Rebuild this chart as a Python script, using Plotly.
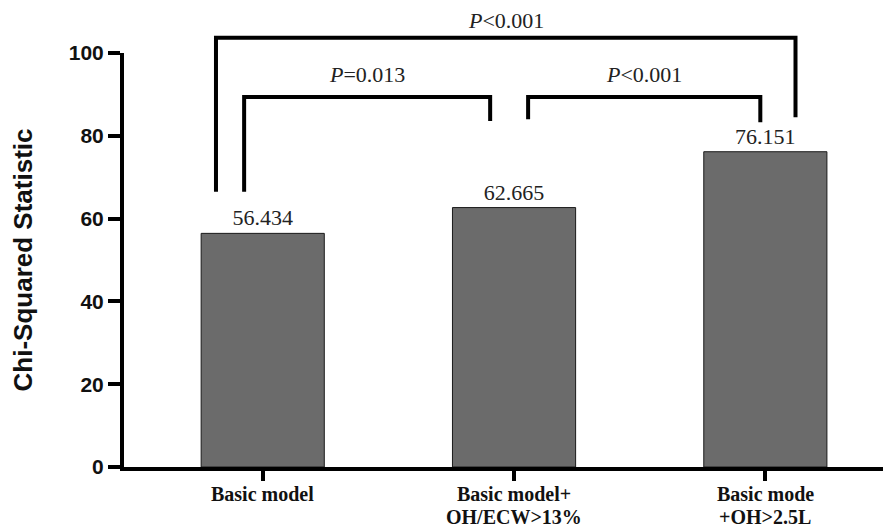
import plotly.graph_objects as go

categories = ["Basic model", "Basic model+<br>OH/ECW>13%", "Basic mode<br>+OH>2.5L"]
values = [56.434, 62.665, 76.151]
value_labels = ["56.434", "62.665", "76.151"]
y_ticks = [0, 20, 40, 60, 80, 100]

# comparisons: (left index, right index, p text)
comparisons = [
    (0, 1, "<i>P</i>=0.013"),
    (1, 2, "<i>P</i>&lt;0.001"),
    (0, 2, "<i>P</i>&lt;0.001"),
]

xs = list(range(len(categories)))

fig = go.Figure()
fig.add_trace(go.Bar(
    x=xs, y=values, width=0.49,
    marker=dict(color="#6b6b6b", line=dict(color="#1a1a1a", width=1)),
    text=value_labels, textposition="outside", cliponaxis=False,
    textfont=dict(family="Liberation Serif", size=22, color="#222"),
    showlegend=False,
))

Y0, Y1 = 0, 100
def py(v):
    return (v - Y0) / (Y1 - Y0)

line = dict(color="black", width=4)
# bracket geometry (data units)
brackets = [
    # (x_left, x_right, top, left_bottom, right_bottom, label_y)
    (-0.074, 0.905, 89.4, 66.5, 83.6, 94.7, comparisons[0][2]),
    (1.056, 1.980, 89.4, 84.0, 83.3, 94.7, comparisons[1][2]),
    (-0.186, 2.120, 103.7, 66.5, 84.5, 107.8, comparisons[2][2]),
]
for xl, xr, top, lb, rb, ly, txt in brackets:
    fig.add_shape(type="path",
                  path=f"M {xl},{py(lb)} L {xl},{py(top)} L {xr},{py(top)} L {xr},{py(rb)}",
                  xref="x", yref="paper", line=line)
    fig.add_annotation(x=(xl + xr) / 2, y=py(ly), xref="x", yref="paper",
                       text=txt, showarrow=False, yanchor="middle",
                       font=dict(family="Liberation Serif", size=22, color="#222"))

# category labels drawn line by line for tight line spacing
for i, cat in enumerate(categories):
    for j, part in enumerate(cat.split("<br>")):
        fig.add_annotation(x=xs[i], y=0, xref="x", yref="paper",
                           text=f"<b>{part}</b>", showarrow=False,
                           yanchor="middle", yshift=-(27 + 23 * j),
                           font=dict(family="Liberation Serif", size=20, color="#111"))

fig.update_layout(
    width=883, height=519,
    margin=dict(l=116, r=0, t=45, b=60, autoexpand=False),
    plot_bgcolor="white", paper_bgcolor="white",
    bargap=0.5,
)
fig.update_xaxes(
    range=[-0.552, 2.5], tickvals=xs, showticklabels=False, automargin=False,
    showline=True, linecolor="black", linewidth=4,
    ticks="outside", ticklen=10, tickwidth=4, tickcolor="black",
    showgrid=False, zeroline=False,
)
fig.update_yaxes(
    range=[Y0, Y1], tickvals=y_ticks, automargin=False,
    showline=True, linecolor="black", linewidth=4,
    ticks="outside", ticklen=12, tickwidth=4, tickcolor="black",
    tickfont=dict(family="Liberation Sans", size=21, color="#111", weight="bold"),
    showgrid=False, zeroline=False,
    title=dict(text="Chi-Squared Statistic", standoff=30,
               font=dict(family="Liberation Sans", size=26, color="#111", weight="bold")),
)

fig.write_html("out.html")
